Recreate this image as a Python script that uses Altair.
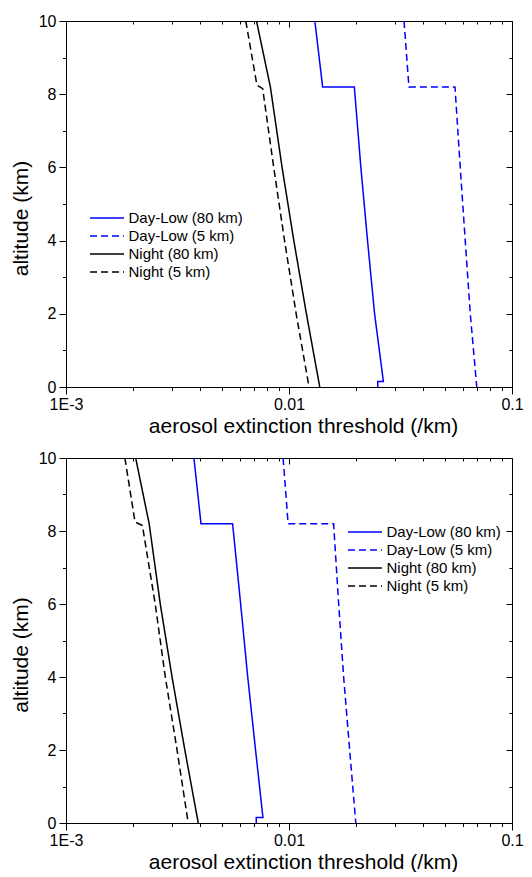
import altair as alt
import pandas as pd

FONT = "Liberation Sans"

SERIES = ["Day-Low (80 km)", "Day-Low (5 km)", "Night (80 km)", "Night (5 km)"]
COLORS = ["#0000ff", "#0000ff", "#000000", "#000000"]
DASHES = [[1, 0], [7, 4], [1, 0], [7, 4]]

X_MAJOR = [0.001, 0.01, 0.1]
X_LABELS = ["1E-3", "0.01", "0.1"]
X_MINOR = [0.002, 0.003, 0.004, 0.005, 0.006, 0.007, 0.008, 0.009,
           0.02, 0.03, 0.04, 0.05, 0.06, 0.07, 0.08, 0.09]
Y_MAJOR = [0, 2, 4, 6, 8, 10]
Y_MINOR = [1, 3, 5, 7, 9]

# ---- top panel ----
top_dl80_alt = [10, 8.2, 8.2, 6, 4, 2, 0.15, 0.15, 0]
top_dl80_ext = [0.01306, 0.01415, 0.01963, 0.0210, 0.0225, 0.0242, 0.0265, 0.0250, 0.0250]
top_dl5_alt = [10, 8.2, 8.2, 6, 4, 2, 0]
top_dl5_ext = [0.0328, 0.0345, 0.0555, 0.0586, 0.0617, 0.0650, 0.0695]
top_n80_alt = [10, 8.2, 6, 4, 2, 0]
top_n80_ext = [0.00715, 0.00825, 0.00931, 0.01051, 0.01197, 0.01374]
top_n5_alt = [10, 8.25, 8.15, 6, 4, 2, 0]
top_n5_ext = [0.00640, 0.00718, 0.00762, 0.00854, 0.00955, 0.01077, 0.01230]

# ---- bottom panel ----
bot_dl80_alt = [10, 8.2, 8.2, 6, 4, 2, 0.15, 0.15, 0]
bot_dl80_ext = [0.003747, 0.00403, 0.005586, 0.00607, 0.00653, 0.00708, 0.00764, 0.00713, 0.00713]
bot_dl5_alt = [10, 8.2, 8.2, 6, 4, 2, 0]
bot_dl5_ext = [0.00941, 0.00991, 0.01585, 0.0167, 0.01758, 0.01871, 0.01993]
bot_n80_alt = [10, 8.2, 6, 4, 2, 0]
bot_n80_ext = [0.002053, 0.00236, 0.002647, 0.002989, 0.003411, 0.003919]
bot_n5_alt = [10, 8.25, 8.15, 6, 4, 2, 0]
bot_n5_ext = [0.001837, 0.002039, 0.002201, 0.002512, 0.002788, 0.003148, 0.003532]


def frame(parts):
    rows = []
    for name, alts, exts in parts:
        for i, (a, e) in enumerate(zip(alts, exts)):
            rows.append({"series": name, "alt": a, "ext": e, "idx": i})
    return pd.DataFrame(rows)


top_df = frame([
    (SERIES[0], top_dl80_alt, top_dl80_ext),
    (SERIES[1], top_dl5_alt, top_dl5_ext),
    (SERIES[2], top_n80_alt, top_n80_ext),
    (SERIES[3], top_n5_alt, top_n5_ext),
])
bot_df = frame([
    (SERIES[0], bot_dl80_alt, bot_dl80_ext),
    (SERIES[1], bot_dl5_alt, bot_dl5_ext),
    (SERIES[2], bot_n80_alt, bot_n80_ext),
    (SERIES[3], bot_n5_alt, bot_n5_ext),
])

W = 446

x_label_expr = ""
for v, lab in zip(X_MAJOR[:-1], X_LABELS[:-1]):
    x_label_expr += f"datum.value < {v * 3.1} ? '{lab}' : "
x_label_expr += f"'{X_LABELS[-1]}'"


def panel(df, h, lx, ly):
    xs = alt.Scale(type="log", domain=[X_MAJOR[0], X_MAJOR[-1]], nice=False)
    ys = alt.Scale(domain=[Y_MAJOR[0], Y_MAJOR[-1]], nice=False)
    leg = alt.Legend(
        orient="none", legendX=lx, legendY=ly, title=None,
        symbolType="M-3.4,0L3.4,0", symbolSize=100, symbolStrokeWidth=1.5,
        symbolOffset=9.5, labelOffset=14, labelFontSize=15, labelFont=FONT,
        labelColor="black", rowPadding=2, padding=0,
    )
    base = alt.Chart(df)
    main = base.mark_line(strokeWidth=1.5).encode(
        x=alt.X("ext:Q", scale=xs, axis=alt.Axis(
            orient="bottom", values=X_MAJOR, labelExpr=x_label_expr, tickSize=7,
            labelPadding=2, title="aerosol extinction threshold (/km)", titlePadding=3,
            titleX=W / 2 + 14, labelFlush=False)),
        y=alt.Y("alt:Q", scale=ys, axis=alt.Axis(
            orient="left", values=Y_MAJOR, tickSize=7, labelPadding=3,
            title="altitude (km)", titlePadding=7, titleY=h / 2 + 14)),
        color=alt.Color("series:N", scale=alt.Scale(domain=SERIES, range=COLORS), legend=leg),
        strokeDash=alt.StrokeDash("series:N", scale=alt.Scale(domain=SERIES, range=DASHES), legend=leg),
        order="idx:Q",
    )

    def ghost(xaxis, yaxis):
        return base.mark_line(opacity=0).encode(
            x=alt.X("ext:Q", scale=xs, axis=xaxis),
            y=alt.Y("alt:Q", scale=ys, axis=yaxis),
            detail="series:N",
            order="idx:Q",
        )

    g1 = ghost(
        alt.Axis(orient="bottom", values=X_MINOR, tickSize=3.5, labels=False, domain=False, title=None),
        alt.Axis(orient="left", values=Y_MINOR, tickSize=3.5, labels=False, domain=False, title=None),
    )
    g2 = ghost(
        alt.Axis(orient="bottom", offset=-h, values=X_MAJOR, tickSize=6, labels=False, domain=True, title=None),
        alt.Axis(orient="left", offset=-W, values=Y_MAJOR, tickSize=6, labels=False, domain=True, title=None),
    )
    g3 = ghost(
        alt.Axis(orient="bottom", offset=-h, values=X_MINOR, tickSize=3, labels=False, domain=False, title=None),
        alt.Axis(orient="left", offset=-W, values=Y_MINOR, tickSize=3, labels=False, domain=False, title=None),
    )
    return alt.layer(main, g1, g2, g3).resolve_axis(
        x="independent", y="independent"
    ).properties(width=W, height=h)


top = panel(top_df, 366, 24, 189.5)
bottom = panel(bot_df, 365, 282, 66.5)

chart = alt.vconcat(top, bottom, spacing=14).resolve_legend(
    color="independent", strokeDash="independent"
).configure_view(strokeWidth=0).configure_axis(
    grid=False, domainColor="black", tickColor="black", labelColor="black",
    titleColor="black", labelFont=FONT, titleFont=FONT, labelFontSize=16,
    titleFontSize=21, titleFontWeight="normal", domainWidth=1, tickWidth=1,
).properties(
    padding={"left": 2, "top": 5, "right": 0, "bottom": 0}, background="white"
)

chart.save("out.html", embed_options={"renderer": "svg", "actions": False})
